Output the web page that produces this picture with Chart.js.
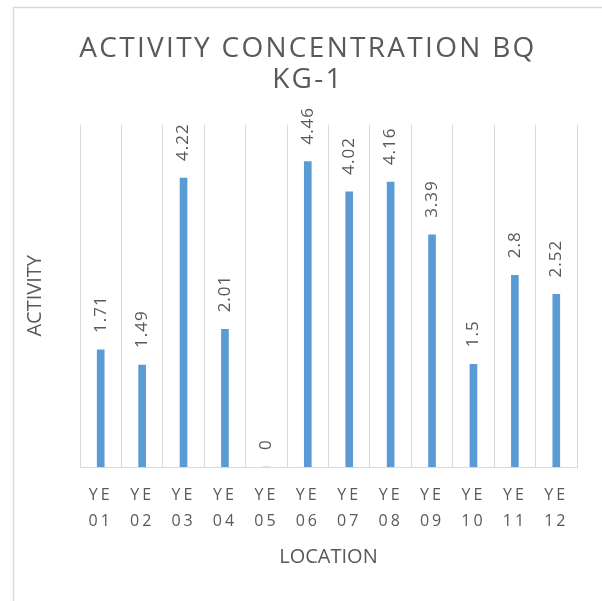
<!DOCTYPE html>
<html>
<head>
<meta charset="utf-8">
<script src="https://cdn.jsdelivr.net/npm/chart.js@4/dist/chart.umd.min.js"></script>
<style>
  html, body { margin: 0; padding: 0; background: #ffffff; }
  canvas { display: block; }
</style>
</head>
<body>
<canvas id="chart" width="602" height="601"></canvas>
<script>
// Sampling locations and measured activity concentration
const locations = ['YE 01', 'YE 02', 'YE 03', 'YE 04', 'YE 05', 'YE 06',
                   'YE 07', 'YE 08', 'YE 09', 'YE 10', 'YE 11', 'YE 12'];
const activity = [1.71, 1.49, 4.22, 2.01, 0, 4.46, 4.02, 4.16, 3.39, 1.5, 2.8, 2.52];

const titleLines = ['ACTIVITY CONCENTRATION BQ', 'KG-1'];
const xAxisTitle = 'LOCATION';
const yAxisTitle = 'ACTIVITY';

const FONT = "'Open Sans', 'DejaVu Sans', sans-serif";
const TEXT_COLOR = '#595959';
const LINE_COLOR = '#D9D9D9';
const BAR_COLOR = '#5B9BD5';

const canvas = document.getElementById('chart');
const ctx = canvas.getContext('2d');

// Letter spacing per text size: title, tick labels, value labels, axis titles
const spacingBySize = { 28: '2.3px', 16: '3px', 17: '1px', 20: '0px' };
function applySpacing(c) {
  const m = /(\d+(?:\.\d+)?)px/.exec(c.font);
  const size = m ? Math.round(parseFloat(m[1])) : 0;
  c.letterSpacing = spacingBySize[size] || '0px';
}
const baseFillText = ctx.fillText;
const baseMeasureText = ctx.measureText;
ctx.fillText = function (...args) { applySpacing(this); return baseFillText.apply(this, args); };
ctx.measureText = function (...args) { applySpacing(this); return baseMeasureText.apply(this, args); };

// Thin frame around the chart area
const chartFrame = {
  id: 'chartFrame',
  beforeDraw(chart) {
    const c = chart.ctx;
    c.save();
    c.strokeStyle = LINE_COLOR;
    c.lineWidth = 1.5;
    c.beginPath();
    c.moveTo(13.5, chart.height + 2);
    c.lineTo(13.5, 7.5);
    c.lineTo(chart.width + 2, 7.5);
    c.stroke();
    c.restore();
  }
};

// Rotated value labels above each bar
const valueLabels = {
  id: 'valueLabels',
  afterDatasetsDraw(chart) {
    const c = chart.ctx;
    const meta = chart.getDatasetMeta(0);
    const values = chart.data.datasets[0].data;
    c.save();
    c.font = '17px ' + FONT;
    c.fillStyle = TEXT_COLOR;
    c.textAlign = 'left';
    c.textBaseline = 'middle';
    meta.data.forEach((bar, i) => {
      c.save();
      c.translate(bar.x, bar.y - 17);
      c.rotate(-Math.PI / 2);
      c.fillText(String(values[i]), 0, 0);
      c.restore();
    });
    c.restore();
  }
};

new Chart(ctx, {
  type: 'bar',
  data: {
    labels: locations,
    datasets: [{
      data: activity,
      backgroundColor: BAR_COLOR,
      borderWidth: 0,
      barThickness: 7
    }]
  },
  plugins: [chartFrame, valueLabels],
  options: {
    responsive: false,
    devicePixelRatio: 1,
    animation: false,
    layout: { padding: { left: 39, right: 25, top: 10, bottom: 32 } },
    plugins: {
      legend: { display: false },
      tooltip: { enabled: false },
      title: {
        display: true,
        text: titleLines,
        color: TEXT_COLOR,
        font: { family: FONT, size: 28, weight: 'normal', lineHeight: 1.1 },
        padding: { top: 23.5, bottom: 29.5 }
      }
    },
    scales: {
      x: {
        offset: true,
        afterFit(scale) { scale.height = 102; },
        grid: { color: LINE_COLOR, lineWidth: 1, drawTicks: false, offset: true },
        border: { color: LINE_COLOR, width: 1 },
        ticks: {
          color: TEXT_COLOR,
          font: { family: FONT, size: 16, lineHeight: 1.625 },
          padding: 15,
          maxRotation: 0,
          autoSkip: false,
          callback(value) { return this.getLabelForValue(value).split(' '); }
        },
        title: {
          display: true,
          text: xAxisTitle,
          color: TEXT_COLOR,
          font: { family: FONT, size: 20, lineHeight: 1.2 },
          padding: { top: 14, bottom: 0 }
        }
      },
      y: {
        min: 0,
        max: 5,
        afterFit(scale) { scale.width = 41; },
        ticks: { display: false },
        grid: { display: false, drawTicks: false },
        border: { display: false },
        title: {
          display: true,
          text: yAxisTitle,
          color: TEXT_COLOR,
          font: { family: FONT, size: 20, lineHeight: 1.2 },
          padding: { top: -16, bottom: 0 }
        }
      }
    }
  }
});
</script>
</body>
</html>
